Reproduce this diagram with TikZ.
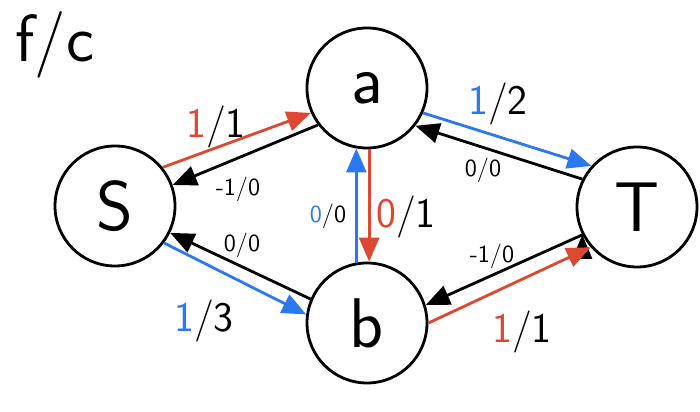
\documentclass[tikz,border=0pt]{standalone}
\usepackage{tikz}
\usetikzlibrary{arrows.meta, automata, positioning}
\definecolor{flowred}{RGB}{220,72,50}
\definecolor{flowblue}{RGB}{44,120,240}

\begin{document}
\begin{tikzpicture}
	\tikzset {->, >={Triangle[length=0.48cm, width=0.4cm]}, on grid,
		every state/.style={line width=1.6pt, fill=none, minimum size=2.4cm, inner sep=0pt, font=\sffamily\fontsize{40}{40}\selectfont},
		every edge/.style={draw, line width=1.6pt},
		biglabel/.style={font=\sffamily\fontsize{24}{24}\selectfont},
		smalllabel/.style={font=\sffamily\fontsize{14}{14}\selectfont} }

	\useasboundingbox (0,0) rectangle (14,-8.24);

	\node[font=\sffamily\fontsize{38}{38}\selectfont] (title) at (1.10,-0.90) {f/c};

	\node[state]	(S) at (2.30,-4.12)				{S};
	\node[state]	(a) [above right=2.36cm and 5.04cm of S]	{a};
	\node[state]	(b) [below=4.70cm of a]				{b};
	\node[state]	(T) [below right=2.38cm and 5.40cm of a]	{T};

	\draw
		(S.39)  edge[flowred]  (a.204)
		(a.217) edge           (S.20)
		(a.336) edge[flowblue] (T.138)
		(T.153) edge           (a.322)
		(a.272) edge[flowred]  (b.88)
		(b.100) edge[flowblue] (a.260)
		(S.323) edge[flowblue] (b.172)
		(b.157) edge           (S.334)
		(b.0)   edge[flowred]  (T.221)
		(T.207) edge           (b.17);

	% flow / capacity
	\node[biglabel]   (lSa) at (4.32,-2.54) {{\color{flowred}1}/1};
	\node[smalllabel] (laS) at (4.76,-3.78) {-1/0};
	\node[biglabel]   (laT) at (9.96,-2.08) {{\color{flowblue}1}/2};
	\node[smalllabel] (lTa) at (9.66,-3.40) {0/0};
	\node[smalllabel] (lba) at (6.56,-4.32) {{\color{flowblue}0}/0};
	\node[biglabel]   (lab) at (8.12,-4.34) {{\color{flowred}0}/1};
	\node[smalllabel] (lbS) at (4.84,-4.90) {0/0};
	\node[biglabel]   (lSb) at (4.08,-6.42) {{\color{flowblue}1}/3};
	\node[smalllabel] (lTb) at (9.84,-5.12) {-1/0};
	\node[biglabel]   (lbT) at (10.44,-6.64) {{\color{flowred}1}/1};

\end{tikzpicture}
\end{document}
